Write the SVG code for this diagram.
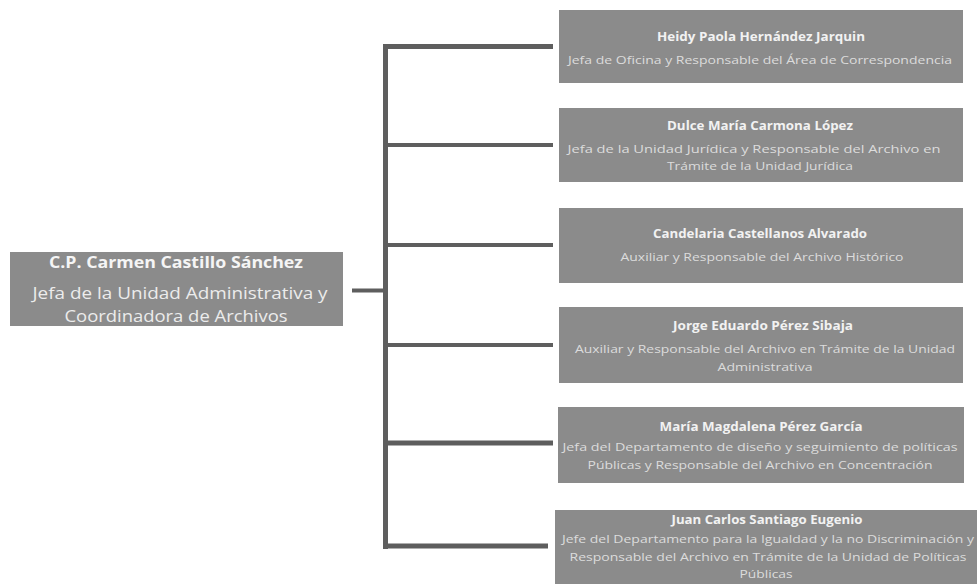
<svg xmlns="http://www.w3.org/2000/svg" width="977" height="584" viewBox="0 0 977 584">
<style>
.box{fill:#8b8b8b}
.t{font-family:"Open Sans","Liberation Sans",sans-serif;font-weight:bold;font-size:11.5px;fill:#f2f2f2;text-anchor:middle}
.s{font-family:"Open Sans","Liberation Sans",sans-serif;font-size:10.5px;fill:#dcdcdc;text-anchor:middle}
.rt{font-family:"Open Sans","Liberation Sans",sans-serif;font-weight:bold;font-size:16px;fill:#f5f5f5;text-anchor:middle}
.rs{font-family:"Open Sans","Liberation Sans",sans-serif;font-size:16px;fill:#ececec;text-anchor:middle}
.ln{stroke:#5e5e5e;fill:none}
</style>
<rect width="977" height="584" fill="#ffffff"/>
<g id="connectors">
<line class="ln" x1="352" y1="290.5" x2="386" y2="290.5" stroke-width="4"/>
<line class="ln" x1="385.5" y1="44" x2="385.5" y2="549" stroke-width="5"/>
<line class="ln" x1="383" y1="46.5" x2="553" y2="46.5" stroke-width="5"/>
<line class="ln" x1="383" y1="145" x2="553" y2="145" stroke-width="4"/>
<line class="ln" x1="383" y1="245" x2="553" y2="245" stroke-width="4"/>
<line class="ln" x1="383" y1="345" x2="553" y2="345" stroke-width="4"/>
<line class="ln" x1="383" y1="443" x2="553" y2="443" stroke-width="5"/>
<line class="ln" x1="383" y1="546" x2="548" y2="546" stroke-width="5"/>
</g>
<g id="root">
<rect class="box" x="10" y="252" width="333" height="74"/>
<text class="rt" x="176" y="268" textLength="254" lengthAdjust="spacingAndGlyphs">C.P. Carmen Castillo Sánchez</text>
<text class="rs" x="180" y="299" textLength="295" lengthAdjust="spacingAndGlyphs">Jefa de la Unidad Administrativa y</text>
<text class="rs" x="176" y="322" textLength="223" lengthAdjust="spacingAndGlyphs">Coordinadora de Archivos</text>
</g>
<g id="n1">
<rect class="box" x="559" y="10" width="404" height="73"/>
<text class="t" x="761" y="41" textLength="208" lengthAdjust="spacingAndGlyphs">Heidy Paola Hernández Jarquin</text>
<text class="s" x="760" y="64" textLength="384" lengthAdjust="spacingAndGlyphs">Jefa de Oficina y Responsable del Área de Correspondencia</text>
</g>
<g id="n2">
<rect class="box" x="559" y="108" width="404" height="74"/>
<text class="t" x="760" y="130" textLength="186" lengthAdjust="spacingAndGlyphs">Dulce María Carmona López</text>
<text class="s" x="754" y="153" textLength="373" lengthAdjust="spacingAndGlyphs">Jefa de la Unidad Jurídica y Responsable del Archivo en</text>
<text class="s" x="760" y="170" textLength="186" lengthAdjust="spacingAndGlyphs">Trámite de la Unidad Jurídica</text>
</g>
<g id="n3">
<rect class="box" x="559" y="208" width="404" height="75"/>
<text class="t" x="760" y="238" textLength="214" lengthAdjust="spacingAndGlyphs">Candelaria Castellanos Alvarado</text>
<text class="s" x="762" y="261" textLength="283" lengthAdjust="spacingAndGlyphs">Auxiliar y Responsable del Archivo Histórico</text>
</g>
<g id="n4">
<rect class="box" x="559" y="307" width="404" height="76"/>
<text class="t" x="763" y="330" textLength="180" lengthAdjust="spacingAndGlyphs">Jorge Eduardo Pérez Sibaja</text>
<text class="s" x="765" y="353" textLength="380" lengthAdjust="spacingAndGlyphs">Auxiliar y Responsable del Archivo en Trámite de la Unidad</text>
<text class="s" x="765" y="371" textLength="95" lengthAdjust="spacingAndGlyphs">Administrativa</text>
</g>
<g id="n5">
<rect class="box" x="558" y="407" width="406" height="76"/>
<text class="t" x="761" y="431" textLength="203" lengthAdjust="spacingAndGlyphs">María Magdalena Pérez García</text>
<text class="s" x="760" y="451" textLength="395" lengthAdjust="spacingAndGlyphs">Jefa del Departamento de diseño y seguimiento de políticas</text>
<text class="s" x="760" y="469" textLength="345" lengthAdjust="spacingAndGlyphs">Públicas y Responsable del Archivo en Concentración</text>
</g>
<g id="n6">
<rect class="box" x="555" y="510" width="422" height="74"/>
<text class="t" x="767" y="524" textLength="191" lengthAdjust="spacingAndGlyphs">Juan Carlos Santiago Eugenio</text>
<text class="s" x="768" y="543" textLength="412" lengthAdjust="spacingAndGlyphs">Jefe del Departamento para la Igualdad y la no Discriminación y</text>
<text class="s" x="768" y="561" textLength="397" lengthAdjust="spacingAndGlyphs">Responsable del Archivo en Trámite de la Unidad de Políticas</text>
<text class="s" x="766" y="578" textLength="53" lengthAdjust="spacingAndGlyphs">Públicas</text>
</g>
</svg>
